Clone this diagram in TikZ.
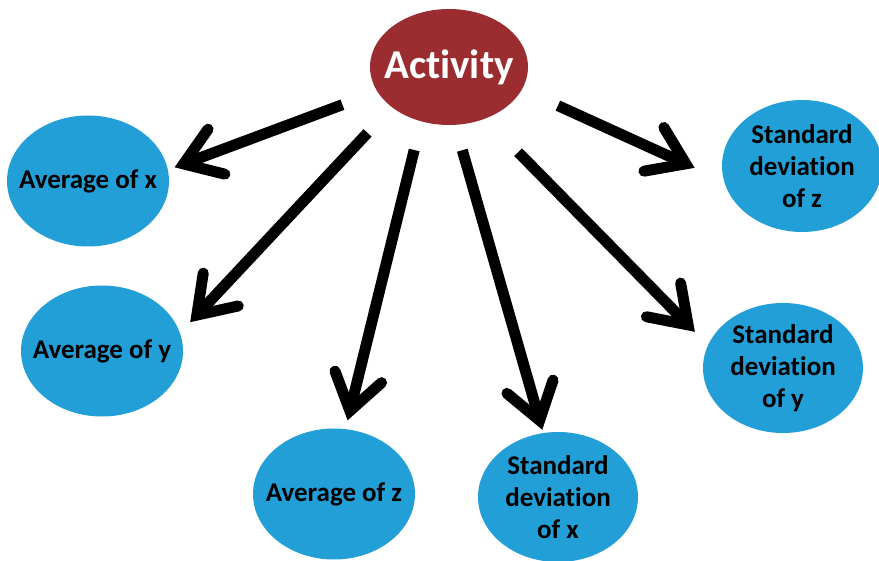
\documentclass[tikz,border=0pt]{standalone}
\usepackage{fontspec}
\setmainfont{Carlito}[Ligatures={NoCommon}]
\usetikzlibrary{shapes.geometric,arrows.meta}
\definecolor{bluefill}{HTML}{239FD8}
\definecolor{redfill}{HTML}{9B2D30}
\begin{document}
\begin{tikzpicture}[x=1pt,y=-1pt,
  blob/.style={ellipse, fill=bluefill, inner sep=-25pt, minimum width=162pt, minimum height=131pt,
    align=center, text=black, font=\bfseries\fontsize{27}{32}\selectfont},
  hub/.style={ellipse, fill=redfill, inner sep=-25pt, minimum width=158pt, minimum height=116pt,
    text=white, font=\bfseries\fontsize{41}{48}\selectfont},
  arr/.style={line width=11pt, -{Straight Barb[length=35pt,width=48pt,line cap=round,line join=miter]}}]
\useasboundingbox (0,0) rectangle (879,561);
\fill[white] (0,0) rectangle (879,561);
\node[hub] (act) at (449,67) {Activity};
\node[blob] (ax) at (88,181) {Average of x};
\node[blob] (ay) at (102,351) {Average of y};
\node[blob] (az) at (334,494) {Average of z};
\node[blob, minimum width=160pt, minimum height=130pt] (sx) at (558,497) {Standard\\deviation\\of x};
\node[blob, minimum width=160pt, minimum height=130pt] (sy) at (783,368) {Standard\\deviation\\of y};
\node[blob, minimum width=160pt, minimum height=132pt] (sz) at (802,166) {Standard\\deviation\\of z};
\draw[arr, shorten <=37.2pt, shorten >=7pt] (act.199.6) -- (ax.8.9);
\draw[arr, shorten <=35.3pt, shorten >=14.8pt] (act.215.4) -- (ay.13.2);
\draw[arr, shorten <=29.3pt, shorten >=8.9pt] (act.243.8) -- (az.80.6);
\draw[arr, shorten <=26.2pt, shorten >=3.3pt] (act.276.8) -- (sx.103.3);
\draw[arr, shorten <=46.9pt, shorten >=18.6pt] (act.305.0) -- (sy.163.2);
\draw[arr, shorten <=39.3pt, shorten >=32.2pt] (act.343.6) -- (sz.191.2);
\end{tikzpicture}
\end{document}
